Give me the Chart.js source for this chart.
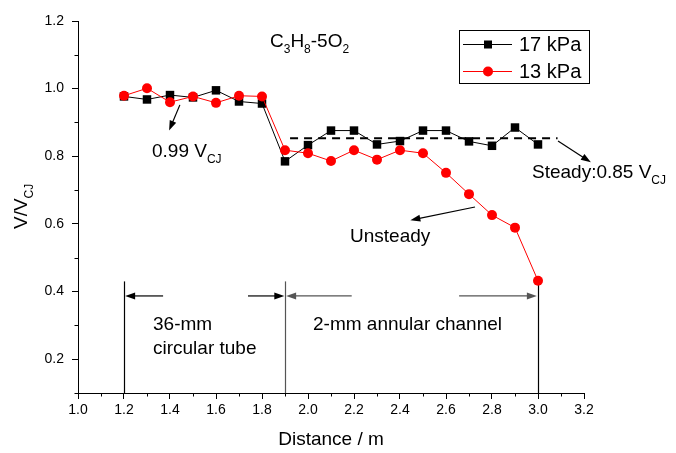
<!DOCTYPE html>
<html><head><meta charset="utf-8">
<script src="https://cdn.jsdelivr.net/npm/chart.js@4/dist/chart.umd.min.js"></script>
<style>html,body{margin:0;padding:0;background:#fff}#wrap{width:676px;height:453px}</style>
</head><body><div id="wrap"><canvas id="c" width="676" height="453"></canvas></div>
<script>
// ---- data ----
const distance = [1.2,1.3,1.4,1.5,1.6,1.7,1.8,1.9,2.0,2.1,2.2,2.3,2.4,2.5,2.6,2.7,2.8,2.9,3.0];
const v17kPa  = [0.977,0.968,0.981,0.974,0.995,0.962,0.956,0.785,0.833,0.876,0.876,0.835,0.845,0.876,0.876,0.844,0.831,0.885,0.835];
const v13kPa  = [0.979,1.001,0.960,0.977,0.958,0.979,0.977,0.818,0.809,0.786,0.818,0.790,0.818,0.809,0.751,0.688,0.626,0.589,0.432];
const seriesNames = ['17 kPa','13 kPa'];
const xTicks = [1.0,1.2,1.4,1.6,1.8,2.0,2.2,2.4,2.6,2.8,3.0,3.2];
const xMinor = [1.1,1.3,1.5,1.7,1.9,2.1,2.3,2.5,2.7,2.9,3.1];
const yTicks = [0.2,0.4,0.6,0.8,1.0,1.2];
const yMinor = [0.1,0.3,0.5,0.7,0.9,1.1];
const steadyLevel = 0.853;
const sectionBounds = [1.2,1.9,3.0];

const FONT = '"Liberation Sans", Arial, sans-serif';

function arrow(ctx,x1,y1,x2,y2,color){
  const a=Math.atan2(y2-y1,x2-x1), L=10, W=3.5;
  ctx.save();ctx.strokeStyle=color;ctx.fillStyle=color;ctx.lineWidth=1.2;
  ctx.beginPath();ctx.moveTo(x1,y1);ctx.lineTo(x2-Math.cos(a)*L*0.8,y2-Math.sin(a)*L*0.8);ctx.stroke();
  ctx.beginPath();ctx.moveTo(x2,y2);
  ctx.lineTo(x2-Math.cos(a)*L+Math.sin(a)*W,y2-Math.sin(a)*L-Math.cos(a)*W);
  ctx.lineTo(x2-Math.cos(a)*L-Math.sin(a)*W,y2-Math.sin(a)*L+Math.cos(a)*W);
  ctx.closePath();ctx.fill();ctx.restore();
}
function rich(ctx,parts,x,y,size,subSize){
  ctx.textBaseline='alphabetic';ctx.textAlign='left';
  let cx=x;
  for(const [t,sub] of parts){
    ctx.font=(sub?subSize:size)+'px '+FONT;
    ctx.fillText(t,cx,y+(sub?Math.round(size*0.32):0));
    cx+=ctx.measureText(t).width;
  }
  return cx-x;
}

const annot={
  id:'annot',
  beforeDatasetsDraw(chart){
    const {ctx,scales:{x,y}}=chart;
    ctx.save();
    ctx.strokeStyle='#000';ctx.lineWidth=1;
    const yb=y.getPixelForValue(0.1), xl=x.getPixelForValue(1.0);
    xMinor.forEach(v=>{const px=Math.round(x.getPixelForValue(v))+0.5;ctx.beginPath();ctx.moveTo(px,yb);ctx.lineTo(px,yb+3.5);ctx.stroke();});
    yMinor.forEach(v=>{const py=Math.round(y.getPixelForValue(v))+0.5;ctx.beginPath();ctx.moveTo(xl,py);ctx.lineTo(xl-3.5,py);ctx.stroke();});
    const cols=['#000','#555','#000'];
    sectionBounds.forEach((v,i)=>{const px=Math.round(x.getPixelForValue(v))+0.5;ctx.strokeStyle=cols[i];ctx.lineWidth=1.2;
      ctx.beginPath();ctx.moveTo(px,y.getPixelForValue(0.43));ctx.lineTo(px,yb);ctx.stroke();});
    ctx.strokeStyle='#000';ctx.lineWidth=2;ctx.setLineDash([8,6]);
    const py=y.getPixelForValue(steadyLevel);
    ctx.beginPath();ctx.moveTo(x.getPixelForValue(1.922),py);ctx.lineTo(x.getPixelForValue(3.085),py);ctx.stroke();
    ctx.setLineDash([]);
    ctx.restore();
  },
  afterDraw(chart){
    const {ctx,scales:{x,y}}=chart;
    const X=v=>x.getPixelForValue(v), Y=v=>y.getPixelForValue(v);
    ctx.save();ctx.fillStyle='#000';
    rich(ctx,[['C',0],['3',1],['H',0],['8',1],['-5O',0],['2',1]],270,47,19,12);
    arrow(ctx,X(1.443),Y(0.952),X(1.396),Y(0.876),'#000');
    rich(ctx,[['0.99 V',0],['CJ',1]],152,157,19,12);
    arrow(ctx,X(3.087),Y(0.845),X(3.23),Y(0.782),'#000');
    rich(ctx,[['Steady:0.85 V',0],['CJ',1]],532,178,19,12);
    arrow(ctx,X(2.726),Y(0.650),X(2.445),Y(0.611),'#000');
    rich(ctx,[['Unsteady',0]],350,242,19,12);
    const ya=Y(0.387);
    arrow(ctx,X(1.37),ya,X(1.205),ya,'#000');
    arrow(ctx,X(1.739),ya,X(1.897),ya,'#000');
    arrow(ctx,X(2.19),ya,X(1.905),ya,'#555');
    arrow(ctx,X(2.657),ya,X(2.995),ya,'#555');
    ctx.fillStyle='#000';
    rich(ctx,[['36-mm',0]],153,330,19,12);
    rich(ctx,[['circular tube',0]],153,354,19,12);
    rich(ctx,[['2-mm annular channel',0]],313,330,19,12);
    ctx.font='19px '+FONT;ctx.textAlign='center';ctx.textBaseline='alphabetic';
    ctx.fillText('Distance / m',(X(1.0)+X(3.2))/2,445);
    ctx.save();ctx.translate(27,229);ctx.rotate(-Math.PI/2);
    rich(ctx,[['V/V',0],['CJ',1]],0,0,19,12);
    ctx.restore();
    ctx.strokeStyle='#000';ctx.lineWidth=1;ctx.strokeRect(459.5,30.5,130,53);
    ctx.strokeStyle='#000';ctx.beginPath();ctx.moveTo(463,44.5);ctx.lineTo(512,44.5);ctx.stroke();
    ctx.fillStyle='#000';ctx.fillRect(488-4,44.5-4,8,8);
    ctx.strokeStyle='#f00';ctx.beginPath();ctx.moveTo(463,71.5);ctx.lineTo(512,71.5);ctx.stroke();
    ctx.fillStyle='#f00';ctx.beginPath();ctx.arc(488,71.5,5,0,Math.PI*2);ctx.fill();
    ctx.fillStyle='#000';ctx.font='20px '+FONT;ctx.textAlign='left';ctx.textBaseline='middle';
    ctx.fillText(seriesNames[0],519,45);ctx.fillText(seriesNames[1],519,72);
    ctx.restore();
  }
};

new Chart(document.getElementById('c'),{
  type:'line',
  data:{datasets:[
    {label:seriesNames[0],data:distance.map((d,i)=>({x:d,y:v17kPa[i]})),borderColor:'#000',backgroundColor:'#000',
     borderWidth:1,pointStyle:'rect',pointRadius:6,pointBorderWidth:0,pointBackgroundColor:'#000',order:2},
    {label:seriesNames[1],data:distance.map((d,i)=>({x:d,y:v13kPa[i]})),borderColor:'#f00',backgroundColor:'#f00',
     borderWidth:1,pointStyle:'circle',pointRadius:5,pointBorderWidth:0,pointBackgroundColor:'#f00',order:1}
  ]},
  options:{
    responsive:false,devicePixelRatio:1,animation:false,
    layout:{padding:{top:21,right:92,left:0,bottom:0}},
    plugins:{legend:{display:false},tooltip:{enabled:false}},
    scales:{
      x:{type:'linear',min:1.0,max:3.2,
        afterBuildTicks:s=>{s.ticks=xTicks.map(v=>({value:v}));},
        afterFit:s=>{s.height=60;},
        ticks:{callback:v=>Number(v).toFixed(1),font:{size:14,family:FONT},color:'#000',padding:3,maxRotation:0,autoSkip:false},
        grid:{drawOnChartArea:false,drawTicks:true,tickLength:6,color:'#000'},
        border:{color:'#000',width:1}},
      y:{type:'linear',min:0.1,max:1.2,
        afterBuildTicks:s=>{s.ticks=yTicks.map(v=>({value:v}));},
        afterFit:s=>{s.width=78;},
        ticks:{callback:v=>Number(v).toFixed(1),font:{size:14,family:FONT},color:'#000',padding:8,autoSkip:false},
        grid:{drawOnChartArea:false,drawTicks:true,tickLength:6,color:'#000'},
        border:{color:'#000',width:1}}
    }
  },
  plugins:[annot]
});
</script></body></html>
